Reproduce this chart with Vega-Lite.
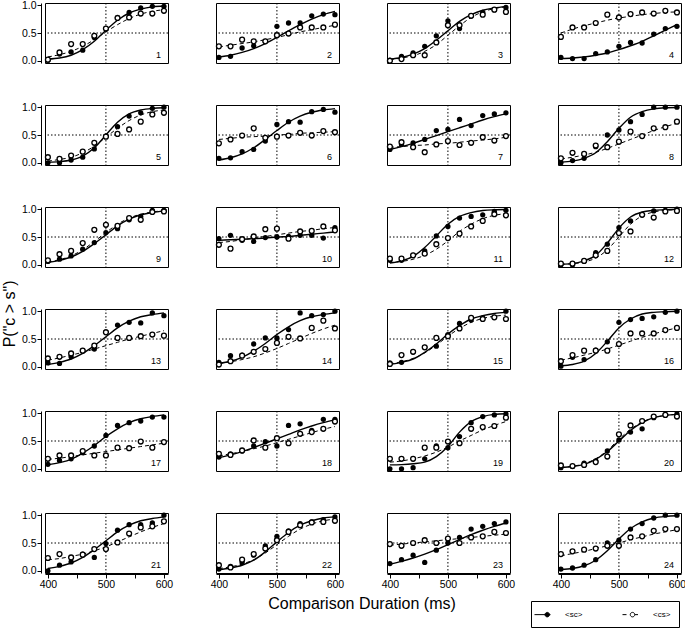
{
"$schema": "https://vega.github.io/schema/vega-lite/v6.json",
"padding": {"left": 2, "top": 0, "right": 2, "bottom": 2},
"title": {"text": "P(\"c > s\")", "orient": "left", "anchor": "middle", "fontSize": 16, "font": "Liberation Sans", "fontWeight": "normal", "offset": 3, "color": "black"},
"data": {"values": [
{"p":1,"x":400,"sc":0.01,"cs":0.02,"scFit":0.03,"csFit":0.07},{"p":1,"x":420,"sc":0.12,"cs":0.15,"scFit":0.05,"csFit":0.11},{"p":1,"x":440,"sc":0.16,"cs":0.30,"scFit":0.10,"csFit":0.17},{"p":1,"x":460,"sc":0.19,"cs":0.30,"scFit":0.20,"csFit":0.26},{"p":1,"x":480,"sc":0.42,"cs":0.45,"scFit":0.35,"csFit":0.38},{"p":1,"x":500,"sc":0.58,"cs":0.58,"scFit":0.55,"csFit":0.52},{"p":1,"x":520,"sc":0.78,"cs":0.77,"scFit":0.73,"csFit":0.65},{"p":1,"x":540,"sc":0.87,"cs":0.78,"scFit":0.86,"csFit":0.76},{"p":1,"x":560,"sc":0.95,"cs":0.85,"scFit":0.93,"csFit":0.84},{"p":1,"x":580,"sc":0.98,"cs":0.85,"scFit":0.97,"csFit":0.89},{"p":1,"x":600,"sc":0.98,"cs":0.90,"scFit":0.985,"csFit":0.92},
{"p":2,"x":400,"sc":0.06,"cs":0.26,"scFit":0.07,"csFit":0.25},{"p":2,"x":420,"sc":0.08,"cs":0.26,"scFit":0.10,"csFit":0.28},{"p":2,"x":440,"sc":0.23,"cs":0.38,"scFit":0.15,"csFit":0.31},{"p":2,"x":460,"sc":0.27,"cs":0.35,"scFit":0.22,"csFit":0.34},{"p":2,"x":480,"sc":0.35,"cs":0.35,"scFit":0.31,"csFit":0.38},{"p":2,"x":500,"sc":0.62,"cs":0.46,"scFit":0.42,"csFit":0.42},{"p":2,"x":520,"sc":0.68,"cs":0.49,"scFit":0.54,"csFit":0.47},{"p":2,"x":540,"sc":0.68,"cs":0.60,"scFit":0.65,"csFit":0.52},{"p":2,"x":560,"sc":0.81,"cs":0.60,"scFit":0.75,"csFit":0.56},{"p":2,"x":580,"sc":0.84,"cs":0.60,"scFit":0.83,"csFit":0.60},{"p":2,"x":600,"sc":0.83,"cs":0.65,"scFit":0.89,"csFit":0.64},
{"p":3,"x":400,"sc":0.01,"cs":0.00,"scFit":0.03,"csFit":0.02},{"p":3,"x":420,"sc":0.08,"cs":0.03,"scFit":0.06,"csFit":0.05},{"p":3,"x":440,"sc":0.14,"cs":0.10,"scFit":0.12,"csFit":0.09},{"p":3,"x":460,"sc":0.26,"cs":0.10,"scFit":0.22,"csFit":0.17},{"p":3,"x":480,"sc":0.45,"cs":0.33,"scFit":0.37,"csFit":0.29},{"p":3,"x":500,"sc":0.72,"cs":0.64,"scFit":0.54,"csFit":0.46},{"p":3,"x":520,"sc":0.58,"cs":0.64,"scFit":0.71,"csFit":0.63},{"p":3,"x":540,"sc":0.81,"cs":0.81,"scFit":0.83,"csFit":0.78},{"p":3,"x":560,"sc":0.87,"cs":0.83,"scFit":0.91,"csFit":0.88},{"p":3,"x":580,"sc":0.92,"cs":0.92,"scFit":0.95,"csFit":0.94},{"p":3,"x":600,"sc":0.96,"cs":0.88,"scFit":0.98,"csFit":0.97},
{"p":4,"x":400,"sc":0.06,"cs":0.43,"scFit":0.04,"csFit":0.50},{"p":4,"x":420,"sc":0.04,"cs":0.60,"scFit":0.05,"csFit":0.57},{"p":4,"x":440,"sc":0.04,"cs":0.60,"scFit":0.07,"csFit":0.63},{"p":4,"x":460,"sc":0.13,"cs":0.68,"scFit":0.10,"csFit":0.68},{"p":4,"x":480,"sc":0.16,"cs":0.83,"scFit":0.14,"csFit":0.73},{"p":4,"x":500,"sc":0.26,"cs":0.78,"scFit":0.20,"csFit":0.77},{"p":4,"x":520,"sc":0.33,"cs":0.84,"scFit":0.27,"csFit":0.80},{"p":4,"x":540,"sc":0.32,"cs":0.87,"scFit":0.35,"csFit":0.83},{"p":4,"x":560,"sc":0.48,"cs":0.85,"scFit":0.45,"csFit":0.85},{"p":4,"x":580,"sc":0.58,"cs":0.90,"scFit":0.55,"csFit":0.87},{"p":4,"x":600,"sc":0.62,"cs":0.87,"scFit":0.65,"csFit":0.88},
{"p":5,"x":400,"sc":0.00,"cs":0.10,"scFit":0.01,"csFit":0.03},{"p":5,"x":420,"sc":0.00,"cs":0.07,"scFit":0.02,"csFit":0.06},{"p":5,"x":440,"sc":0.05,"cs":0.13,"scFit":0.05,"csFit":0.10},{"p":5,"x":460,"sc":0.10,"cs":0.20,"scFit":0.12,"csFit":0.18},{"p":5,"x":480,"sc":0.25,"cs":0.36,"scFit":0.27,"csFit":0.30},{"p":5,"x":500,"sc":0.48,"cs":0.47,"scFit":0.50,"csFit":0.46},{"p":5,"x":520,"sc":0.65,"cs":0.52,"scFit":0.73,"csFit":0.62},{"p":5,"x":540,"sc":0.84,"cs":0.60,"scFit":0.88,"csFit":0.76},{"p":5,"x":560,"sc":0.90,"cs":0.74,"scFit":0.95,"csFit":0.86},{"p":5,"x":580,"sc":0.98,"cs":0.87,"scFit":0.98,"csFit":0.92},{"p":5,"x":600,"sc":1.00,"cs":0.90,"scFit":0.99,"csFit":0.95},
{"p":6,"x":400,"sc":0.08,"cs":0.35,"scFit":0.05,"csFit":0.42},{"p":6,"x":420,"sc":0.09,"cs":0.42,"scFit":0.09,"csFit":0.44},{"p":6,"x":440,"sc":0.20,"cs":0.49,"scFit":0.16,"csFit":0.46},{"p":6,"x":460,"sc":0.24,"cs":0.62,"scFit":0.27,"csFit":0.47},{"p":6,"x":480,"sc":0.39,"cs":0.45,"scFit":0.42,"csFit":0.48},{"p":6,"x":500,"sc":0.69,"cs":0.47,"scFit":0.58,"csFit":0.50},{"p":6,"x":520,"sc":0.74,"cs":0.49,"scFit":0.73,"csFit":0.51},{"p":6,"x":540,"sc":0.73,"cs":0.54,"scFit":0.84,"csFit":0.53},{"p":6,"x":560,"sc":0.92,"cs":0.49,"scFit":0.91,"csFit":0.54},{"p":6,"x":580,"sc":0.96,"cs":0.57,"scFit":0.95,"csFit":0.55},{"p":6,"x":600,"sc":0.91,"cs":0.55,"scFit":0.975,"csFit":0.56},
{"p":7,"x":400,"sc":0.24,"cs":0.29,"scFit":0.24,"csFit":0.28},{"p":7,"x":420,"sc":0.33,"cs":0.37,"scFit":0.29,"csFit":0.29},{"p":7,"x":440,"sc":0.36,"cs":0.28,"scFit":0.35,"csFit":0.31},{"p":7,"x":460,"sc":0.42,"cs":0.19,"scFit":0.42,"csFit":0.32},{"p":7,"x":480,"sc":0.58,"cs":0.33,"scFit":0.49,"csFit":0.34},{"p":7,"x":500,"sc":0.60,"cs":0.39,"scFit":0.56,"csFit":0.35},{"p":7,"x":520,"sc":0.78,"cs":0.32,"scFit":0.63,"csFit":0.37},{"p":7,"x":540,"sc":0.67,"cs":0.36,"scFit":0.70,"csFit":0.39},{"p":7,"x":560,"sc":0.85,"cs":0.46,"scFit":0.77,"csFit":0.41},{"p":7,"x":580,"sc":0.88,"cs":0.40,"scFit":0.83,"csFit":0.43},{"p":7,"x":600,"sc":0.90,"cs":0.48,"scFit":0.88,"csFit":0.46},
{"p":8,"x":400,"sc":0.00,"cs":0.08,"scFit":0.01,"csFit":0.07},{"p":8,"x":420,"sc":0.04,"cs":0.18,"scFit":0.03,"csFit":0.10},{"p":8,"x":440,"sc":0.08,"cs":0.16,"scFit":0.08,"csFit":0.14},{"p":8,"x":460,"sc":0.29,"cs":0.31,"scFit":0.18,"csFit":0.19},{"p":8,"x":480,"sc":0.50,"cs":0.28,"scFit":0.38,"csFit":0.26},{"p":8,"x":500,"sc":0.59,"cs":0.38,"scFit":0.62,"csFit":0.34},{"p":8,"x":520,"sc":0.74,"cs":0.56,"scFit":0.82,"csFit":0.42},{"p":8,"x":540,"sc":0.87,"cs":0.48,"scFit":0.92,"csFit":0.50},{"p":8,"x":560,"sc":1.00,"cs":0.62,"scFit":0.97,"csFit":0.58},{"p":8,"x":580,"sc":1.00,"cs":0.64,"scFit":0.99,"csFit":0.65},{"p":8,"x":600,"sc":1.00,"cs":0.74,"scFit":0.995,"csFit":0.71},
{"p":9,"x":400,"sc":0.06,"cs":0.08,"scFit":0.04,"csFit":0.05},{"p":9,"x":420,"sc":0.10,"cs":0.19,"scFit":0.08,"csFit":0.09},{"p":9,"x":440,"sc":0.16,"cs":0.25,"scFit":0.14,"csFit":0.16},{"p":9,"x":460,"sc":0.28,"cs":0.39,"scFit":0.24,"csFit":0.27},{"p":9,"x":480,"sc":0.40,"cs":0.63,"scFit":0.38,"csFit":0.42},{"p":9,"x":500,"sc":0.58,"cs":0.72,"scFit":0.54,"csFit":0.58},{"p":9,"x":520,"sc":0.65,"cs":0.70,"scFit":0.70,"csFit":0.73},{"p":9,"x":540,"sc":0.81,"cs":0.84,"scFit":0.82,"csFit":0.84},{"p":9,"x":560,"sc":0.87,"cs":0.81,"scFit":0.90,"csFit":0.91},{"p":9,"x":580,"sc":0.98,"cs":0.95,"scFit":0.94,"csFit":0.95},{"p":9,"x":600,"sc":0.98,"cs":0.96,"scFit":0.97,"csFit":0.975},
{"p":10,"x":400,"sc":0.47,"cs":0.36,"scFit":0.44,"csFit":0.40},{"p":10,"x":420,"sc":0.53,"cs":0.29,"scFit":0.45,"csFit":0.42},{"p":10,"x":440,"sc":0.44,"cs":0.46,"scFit":0.46,"csFit":0.45},{"p":10,"x":460,"sc":0.42,"cs":0.51,"scFit":0.47,"csFit":0.48},{"p":10,"x":480,"sc":0.49,"cs":0.64,"scFit":0.48,"csFit":0.51},{"p":10,"x":500,"sc":0.50,"cs":0.65,"scFit":0.50,"csFit":0.54},{"p":10,"x":520,"sc":0.51,"cs":0.47,"scFit":0.51,"csFit":0.57},{"p":10,"x":540,"sc":0.53,"cs":0.60,"scFit":0.53,"csFit":0.60},{"p":10,"x":560,"sc":0.53,"cs":0.61,"scFit":0.55,"csFit":0.62},{"p":10,"x":580,"sc":0.48,"cs":0.69,"scFit":0.57,"csFit":0.65},{"p":10,"x":600,"sc":0.67,"cs":0.62,"scFit":0.59,"csFit":0.67},
{"p":11,"x":400,"sc":0.08,"cs":0.11,"scFit":0.03,"csFit":0.04},{"p":11,"x":420,"sc":0.08,"cs":0.11,"scFit":0.07,"csFit":0.06},{"p":11,"x":440,"sc":0.17,"cs":0.17,"scFit":0.15,"csFit":0.10},{"p":11,"x":460,"sc":0.25,"cs":0.20,"scFit":0.31,"csFit":0.17},{"p":11,"x":480,"sc":0.52,"cs":0.37,"scFit":0.52,"csFit":0.28},{"p":11,"x":500,"sc":0.69,"cs":0.48,"scFit":0.73,"csFit":0.43},{"p":11,"x":520,"sc":0.84,"cs":0.56,"scFit":0.87,"csFit":0.60},{"p":11,"x":540,"sc":0.87,"cs":0.69,"scFit":0.94,"csFit":0.73},{"p":11,"x":560,"sc":0.90,"cs":0.79,"scFit":0.976,"csFit":0.83},{"p":11,"x":580,"sc":0.96,"cs":0.91,"scFit":0.99,"csFit":0.89},{"p":11,"x":600,"sc":0.98,"cs":0.89,"scFit":0.995,"csFit":0.92},
{"p":12,"x":400,"sc":0.00,"cs":0.02,"scFit":0.01,"csFit":0.01},{"p":12,"x":420,"sc":0.00,"cs":0.02,"scFit":0.02,"csFit":0.02},{"p":12,"x":440,"sc":0.07,"cs":0.07,"scFit":0.07,"csFit":0.05},{"p":12,"x":460,"sc":0.22,"cs":0.17,"scFit":0.17,"csFit":0.12},{"p":12,"x":480,"sc":0.37,"cs":0.25,"scFit":0.39,"csFit":0.27},{"p":12,"x":500,"sc":0.67,"cs":0.57,"scFit":0.66,"csFit":0.50},{"p":12,"x":520,"sc":0.79,"cs":0.60,"scFit":0.86,"csFit":0.73},{"p":12,"x":540,"sc":0.90,"cs":0.90,"scFit":0.95,"csFit":0.88},{"p":12,"x":560,"sc":0.97,"cs":0.85,"scFit":0.98,"csFit":0.95},{"p":12,"x":580,"sc":0.98,"cs":0.96,"scFit":0.99,"csFit":0.98},{"p":12,"x":600,"sc":1.00,"cs":0.97,"scFit":1.00,"csFit":0.99},
{"p":13,"x":400,"sc":0.07,"cs":0.15,"scFit":0.04,"csFit":0.12},{"p":13,"x":420,"sc":0.06,"cs":0.18,"scFit":0.08,"csFit":0.16},{"p":13,"x":440,"sc":0.18,"cs":0.24,"scFit":0.14,"csFit":0.21},{"p":13,"x":460,"sc":0.29,"cs":0.29,"scFit":0.24,"csFit":0.26},{"p":13,"x":480,"sc":0.32,"cs":0.38,"scFit":0.38,"csFit":0.32},{"p":13,"x":500,"sc":0.63,"cs":0.62,"scFit":0.54,"csFit":0.38},{"p":13,"x":520,"sc":0.75,"cs":0.52,"scFit":0.70,"csFit":0.44},{"p":13,"x":540,"sc":0.80,"cs":0.52,"scFit":0.82,"csFit":0.50},{"p":13,"x":560,"sc":0.79,"cs":0.55,"scFit":0.90,"csFit":0.55},{"p":13,"x":580,"sc":0.97,"cs":0.58,"scFit":0.94,"csFit":0.60},{"p":13,"x":600,"sc":0.92,"cs":0.56,"scFit":0.97,"csFit":0.65},
{"p":14,"x":400,"sc":0.08,"cs":0.04,"scFit":0.06,"csFit":0.06},{"p":14,"x":420,"sc":0.20,"cs":0.10,"scFit":0.10,"csFit":0.09},{"p":14,"x":440,"sc":0.21,"cs":0.20,"scFit":0.17,"csFit":0.13},{"p":14,"x":460,"sc":0.41,"cs":0.27,"scFit":0.28,"csFit":0.18},{"p":14,"x":480,"sc":0.52,"cs":0.32,"scFit":0.42,"csFit":0.25},{"p":14,"x":500,"sc":0.52,"cs":0.43,"scFit":0.58,"csFit":0.33},{"p":14,"x":520,"sc":0.67,"cs":0.54,"scFit":0.72,"csFit":0.42},{"p":14,"x":540,"sc":0.97,"cs":0.51,"scFit":0.83,"csFit":0.51},{"p":14,"x":560,"sc":0.92,"cs":0.70,"scFit":0.90,"csFit":0.60},{"p":14,"x":580,"sc":0.94,"cs":0.83,"scFit":0.94,"csFit":0.68},{"p":14,"x":600,"sc":1.00,"cs":0.69,"scFit":0.97,"csFit":0.75},
{"p":15,"x":400,"sc":0.07,"cs":0.05,"scFit":0.04,"csFit":0.05},{"p":15,"x":420,"sc":0.08,"cs":0.21,"scFit":0.08,"csFit":0.09},{"p":15,"x":440,"sc":0.27,"cs":0.27,"scFit":0.14,"csFit":0.15},{"p":15,"x":460,"sc":0.35,"cs":0.35,"scFit":0.26,"csFit":0.25},{"p":15,"x":480,"sc":0.37,"cs":0.52,"scFit":0.41,"csFit":0.39},{"p":15,"x":500,"sc":0.58,"cs":0.55,"scFit":0.59,"csFit":0.55},{"p":15,"x":520,"sc":0.78,"cs":0.69,"scFit":0.74,"csFit":0.69},{"p":15,"x":540,"sc":0.84,"cs":0.88,"scFit":0.86,"csFit":0.80},{"p":15,"x":560,"sc":0.88,"cs":0.86,"scFit":0.92,"csFit":0.87},{"p":15,"x":580,"sc":0.89,"cs":0.89,"scFit":0.96,"csFit":0.91},{"p":15,"x":600,"sc":1.00,"cs":0.86,"scFit":0.98,"csFit":0.93},
{"p":16,"x":400,"sc":0.01,"cs":0.10,"scFit":0.02,"csFit":0.12},{"p":16,"x":420,"sc":0.17,"cs":0.21,"scFit":0.04,"csFit":0.16},{"p":16,"x":440,"sc":0.13,"cs":0.29,"scFit":0.10,"csFit":0.21},{"p":16,"x":460,"sc":0.30,"cs":0.29,"scFit":0.24,"csFit":0.26},{"p":16,"x":480,"sc":0.45,"cs":0.29,"scFit":0.46,"csFit":0.32},{"p":16,"x":500,"sc":0.80,"cs":0.41,"scFit":0.70,"csFit":0.39},{"p":16,"x":520,"sc":0.85,"cs":0.60,"scFit":0.86,"csFit":0.46},{"p":16,"x":540,"sc":0.87,"cs":0.60,"scFit":0.95,"csFit":0.53},{"p":16,"x":560,"sc":0.90,"cs":0.60,"scFit":0.98,"csFit":0.59},{"p":16,"x":580,"sc":0.98,"cs":0.66,"scFit":0.99,"csFit":0.65},{"p":16,"x":600,"sc":1.00,"cs":0.70,"scFit":1.00,"csFit":0.70},
{"p":17,"x":400,"sc":0.08,"cs":0.18,"scFit":0.07,"csFit":0.17},{"p":17,"x":420,"sc":0.15,"cs":0.24,"scFit":0.11,"csFit":0.19},{"p":17,"x":440,"sc":0.18,"cs":0.24,"scFit":0.17,"csFit":0.22},{"p":17,"x":460,"sc":0.29,"cs":0.32,"scFit":0.28,"csFit":0.25},{"p":17,"x":480,"sc":0.41,"cs":0.24,"scFit":0.42,"csFit":0.28},{"p":17,"x":500,"sc":0.60,"cs":0.24,"scFit":0.58,"csFit":0.31},{"p":17,"x":520,"sc":0.78,"cs":0.38,"scFit":0.72,"csFit":0.34},{"p":17,"x":540,"sc":0.83,"cs":0.37,"scFit":0.83,"csFit":0.37},{"p":17,"x":560,"sc":0.86,"cs":0.49,"scFit":0.90,"csFit":0.40},{"p":17,"x":580,"sc":0.93,"cs":0.38,"scFit":0.94,"csFit":0.43},{"p":17,"x":600,"sc":0.93,"cs":0.48,"scFit":0.97,"csFit":0.46},
{"p":18,"x":400,"sc":0.21,"cs":0.27,"scFit":0.20,"csFit":0.23},{"p":18,"x":420,"sc":0.27,"cs":0.25,"scFit":0.25,"csFit":0.27},{"p":18,"x":440,"sc":0.32,"cs":0.33,"scFit":0.31,"csFit":0.31},{"p":18,"x":460,"sc":0.41,"cs":0.51,"scFit":0.38,"csFit":0.36},{"p":18,"x":480,"sc":0.49,"cs":0.38,"scFit":0.46,"csFit":0.41},{"p":18,"x":500,"sc":0.41,"cs":0.55,"scFit":0.54,"csFit":0.47},{"p":18,"x":520,"sc":0.78,"cs":0.46,"scFit":0.62,"csFit":0.53},{"p":18,"x":540,"sc":0.81,"cs":0.63,"scFit":0.70,"csFit":0.59},{"p":18,"x":560,"sc":0.69,"cs":0.66,"scFit":0.77,"csFit":0.65},{"p":18,"x":580,"sc":0.89,"cs":0.72,"scFit":0.83,"csFit":0.71},{"p":18,"x":600,"sc":0.89,"cs":0.85,"scFit":0.88,"csFit":0.76},
{"p":19,"x":400,"sc":0.00,"cs":0.18,"scFit":0.07,"csFit":0.12},{"p":19,"x":420,"sc":0.00,"cs":0.18,"scFit":0.075,"csFit":0.14},{"p":19,"x":440,"sc":0.02,"cs":0.18,"scFit":0.09,"csFit":0.18},{"p":19,"x":460,"sc":0.18,"cs":0.38,"scFit":0.12,"csFit":0.23},{"p":19,"x":480,"sc":0.41,"cs":0.38,"scFit":0.22,"csFit":0.30},{"p":19,"x":500,"sc":0.38,"cs":0.49,"scFit":0.40,"csFit":0.39},{"p":19,"x":520,"sc":0.58,"cs":0.46,"scFit":0.66,"csFit":0.50},{"p":19,"x":540,"sc":0.83,"cs":0.72,"scFit":0.85,"csFit":0.60},{"p":19,"x":560,"sc":0.94,"cs":0.75,"scFit":0.94,"csFit":0.70},{"p":19,"x":580,"sc":0.97,"cs":0.77,"scFit":0.98,"csFit":0.78},{"p":19,"x":600,"sc":0.99,"cs":0.92,"scFit":0.99,"csFit":0.85},
{"p":20,"x":400,"sc":0.02,"cs":0.06,"scFit":0.02,"csFit":0.02},{"p":20,"x":420,"sc":0.04,"cs":0.05,"scFit":0.04,"csFit":0.045},{"p":20,"x":440,"sc":0.10,"cs":0.07,"scFit":0.08,"csFit":0.09},{"p":20,"x":460,"sc":0.14,"cs":0.12,"scFit":0.17,"csFit":0.18},{"p":20,"x":480,"sc":0.32,"cs":0.22,"scFit":0.31,"csFit":0.33},{"p":20,"x":500,"sc":0.52,"cs":0.62,"scFit":0.50,"csFit":0.53},{"p":20,"x":520,"sc":0.66,"cs":0.78,"scFit":0.69,"csFit":0.71},{"p":20,"x":540,"sc":0.72,"cs":0.86,"scFit":0.83,"csFit":0.84},{"p":20,"x":560,"sc":0.92,"cs":0.94,"scFit":0.92,"csFit":0.92},{"p":20,"x":580,"sc":0.97,"cs":0.97,"scFit":0.96,"csFit":0.96},{"p":20,"x":600,"sc":0.99,"cs":0.94,"scFit":0.98,"csFit":0.98},
{"p":21,"x":400,"sc":0.00,"cs":0.23,"scFit":0.04,"csFit":0.20},{"p":21,"x":420,"sc":0.10,"cs":0.30,"scFit":0.08,"csFit":0.22},{"p":21,"x":440,"sc":0.16,"cs":0.24,"scFit":0.14,"csFit":0.26},{"p":21,"x":460,"sc":0.30,"cs":0.29,"scFit":0.24,"csFit":0.30},{"p":21,"x":480,"sc":0.24,"cs":0.39,"scFit":0.38,"csFit":0.36},{"p":21,"x":500,"sc":0.49,"cs":0.39,"scFit":0.54,"csFit":0.43},{"p":21,"x":520,"sc":0.73,"cs":0.51,"scFit":0.70,"csFit":0.52},{"p":21,"x":540,"sc":0.83,"cs":0.67,"scFit":0.82,"csFit":0.61},{"p":21,"x":560,"sc":0.83,"cs":0.78,"scFit":0.90,"csFit":0.70},{"p":21,"x":580,"sc":0.86,"cs":0.80,"scFit":0.94,"csFit":0.78},{"p":21,"x":600,"sc":1.00,"cs":0.89,"scFit":0.97,"csFit":0.85},
{"p":22,"x":400,"sc":0.03,"cs":0.10,"scFit":0.02,"csFit":0.04},{"p":22,"x":420,"sc":0.08,"cs":0.06,"scFit":0.05,"csFit":0.07},{"p":22,"x":440,"sc":0.15,"cs":0.20,"scFit":0.10,"csFit":0.12},{"p":22,"x":460,"sc":0.28,"cs":0.30,"scFit":0.19,"csFit":0.20},{"p":22,"x":480,"sc":0.45,"cs":0.40,"scFit":0.34,"csFit":0.32},{"p":22,"x":500,"sc":0.62,"cs":0.55,"scFit":0.52,"csFit":0.47},{"p":22,"x":520,"sc":0.72,"cs":0.70,"scFit":0.69,"csFit":0.62},{"p":22,"x":540,"sc":0.85,"cs":0.82,"scFit":0.82,"csFit":0.75},{"p":22,"x":560,"sc":0.88,"cs":0.87,"scFit":0.90,"csFit":0.84},{"p":22,"x":580,"sc":0.92,"cs":0.88,"scFit":0.95,"csFit":0.90},{"p":22,"x":600,"sc":0.97,"cs":0.90,"scFit":0.97,"csFit":0.93},
{"p":23,"x":400,"sc":0.13,"cs":0.48,"scFit":0.12,"csFit":0.46},{"p":23,"x":420,"sc":0.20,"cs":0.45,"scFit":0.17,"csFit":0.48},{"p":23,"x":440,"sc":0.28,"cs":0.50,"scFit":0.23,"csFit":0.50},{"p":23,"x":460,"sc":0.15,"cs":0.55,"scFit":0.30,"csFit":0.52},{"p":23,"x":480,"sc":0.37,"cs":0.50,"scFit":0.38,"csFit":0.54},{"p":23,"x":500,"sc":0.50,"cs":0.58,"scFit":0.47,"csFit":0.56},{"p":23,"x":520,"sc":0.60,"cs":0.50,"scFit":0.56,"csFit":0.58},{"p":23,"x":540,"sc":0.75,"cs":0.60,"scFit":0.65,"csFit":0.60},{"p":23,"x":560,"sc":0.80,"cs":0.62,"scFit":0.73,"csFit":0.62},{"p":23,"x":580,"sc":0.85,"cs":0.70,"scFit":0.80,"csFit":0.64},{"p":23,"x":600,"sc":0.88,"cs":0.68,"scFit":0.86,"csFit":0.66},
{"p":24,"x":400,"sc":0.03,"cs":0.30,"scFit":0.02,"csFit":0.27},{"p":24,"x":420,"sc":0.05,"cs":0.35,"scFit":0.04,"csFit":0.31},{"p":24,"x":440,"sc":0.10,"cs":0.38,"scFit":0.09,"csFit":0.35},{"p":24,"x":460,"sc":0.20,"cs":0.40,"scFit":0.19,"csFit":0.40},{"p":24,"x":480,"sc":0.50,"cs":0.45,"scFit":0.36,"csFit":0.45},{"p":24,"x":500,"sc":0.55,"cs":0.45,"scFit":0.57,"csFit":0.50},{"p":24,"x":520,"sc":0.75,"cs":0.60,"scFit":0.76,"csFit":0.56},{"p":24,"x":540,"sc":0.85,"cs":0.62,"scFit":0.88,"csFit":0.61},{"p":24,"x":560,"sc":0.95,"cs":0.72,"scFit":0.95,"csFit":0.66},{"p":24,"x":580,"sc":1.00,"cs":0.75,"scFit":0.98,"csFit":0.70},{"p":24,"x":600,"sc":1.00,"cs":0.75,"scFit":0.99,"csFit":0.74}
]},
"columns": 4,
"facet": {"field": "p", "type": "ordinal", "header": {"labels": false, "labelExpr": "''", "labelFontSize": 1, "labelPadding": 0, "title": "Comparison Duration (ms)", "titleOrient": "bottom", "titleFontSize": 16, "titleFont": "Liberation Sans", "titleFontWeight": "normal", "titleColor": "black", "titlePadding": 6}},
"spacing": {"row": 35, "column": 43},
"spec": {
 "width": 123, "height": 60,
 "layer": [
  {"mark": {"type": "rule", "strokeDash": [1.5, 2], "color": "black", "strokeWidth": 1},
   "transform": [{"filter": "datum.x == 400"}],
   "encoding": {"x": {"datum": 500, "type": "quantitative", "scale": {"domain": [395, 607], "nice": false, "zero": false}, "title": null, "axis": {"values": [400, 450, 500, 550, 600], "labelExpr": "datum.value % 100 == 0 ? datum.label : ''", "format": "d", "title": null}}}},
  {"mark": {"type": "rule", "strokeDash": [1.5, 2], "color": "black", "strokeWidth": 1},
   "transform": [{"filter": "datum.x == 400"}],
   "encoding": {"y": {"datum": 0.5, "type": "quantitative", "scale": {"domain": [-0.04, 1.04], "nice": false, "zero": false}, "title": null, "axis": {"values": [0, 0.5, 1], "format": ".1f", "title": null}}}},
  {"mark": {"type": "line", "color": "black", "strokeWidth": 1.4, "interpolate": "monotone"},
   "encoding": {
     "x": {"field": "x", "type": "quantitative", "title": null, "axis": {"values": [400, 450, 500, 550, 600], "labelExpr": "datum.value % 100 == 0 ? datum.label : ''", "format": "d", "title": null}},
     "y": {"field": "scFit", "type": "quantitative", "title": null, "axis": {"values": [0, 0.5, 1], "format": ".1f", "title": null}}}},
  {"mark": {"type": "line", "color": "black", "strokeWidth": 1, "strokeDash": [4, 3], "interpolate": "monotone"},
   "encoding": {
     "x": {"field": "x", "type": "quantitative", "title": null, "axis": {"values": [400, 450, 500, 550, 600], "labelExpr": "datum.value % 100 == 0 ? datum.label : ''", "format": "d", "title": null}},
     "y": {"field": "csFit", "type": "quantitative", "title": null, "axis": {"values": [0, 0.5, 1], "format": ".1f", "title": null}}}},
  {"mark": {"type": "point", "shape": "circle", "filled": true, "color": "black", "size": 28, "opacity": 1},
   "encoding": {
     "x": {"field": "x", "type": "quantitative", "title": null, "axis": {"values": [400, 450, 500, 550, 600], "labelExpr": "datum.value % 100 == 0 ? datum.label : ''", "format": "d", "title": null}},
     "y": {"field": "sc", "type": "quantitative", "title": null, "axis": {"values": [0, 0.5, 1], "format": ".1f", "title": null}}}},
  {"mark": {"type": "point", "shape": "circle", "filled": false, "stroke": "black", "fill": "white", "fillOpacity": 1, "strokeWidth": 1.3, "size": 24, "opacity": 1},
   "encoding": {
     "x": {"field": "x", "type": "quantitative", "title": null, "axis": {"values": [400, 450, 500, 550, 600], "labelExpr": "datum.value % 100 == 0 ? datum.label : ''", "format": "d", "title": null}},
     "y": {"field": "cs", "type": "quantitative", "title": null, "axis": {"values": [0, 0.5, 1], "format": ".1f", "title": null}}}},
  {"mark": {"type": "text", "align": "right", "baseline": "bottom", "fontSize": 9, "font": "Liberation Sans", "dx": -3, "dy": -1, "color": "black"},
   "transform": [{"filter": "datum.x == 600"}],
   "encoding": {
     "x": {"field": "x", "type": "quantitative", "title": null, "axis": {"values": [400, 450, 500, 550, 600], "labelExpr": "datum.value % 100 == 0 ? datum.label : ''", "format": "d", "title": null}},
     "y": {"datum": 0, "type": "quantitative", "title": null, "axis": {"values": [0, 0.5, 1], "format": ".1f", "title": null}},
     "text": {"field": "p", "type": "nominal"}}},
  {"mark": {"type": "point", "opacity": 0, "filled": true, "stroke": "black", "strokeWidth": 1},
   "transform": [{"filter": "datum.x == 400 && datum.p == 1"}, {"fold": ["sc", "cs"], "as": ["series", "val"]}],
   "encoding": {
     "x": {"field": "x", "type": "quantitative", "title": null, "axis": {"values": [400, 450, 500, 550, 600], "labelExpr": "datum.value % 100 == 0 ? datum.label : ''", "format": "d", "title": null}},
     "y": {"field": "val", "type": "quantitative", "title": null, "axis": {"values": [0, 0.5, 1], "format": ".1f", "title": null}},
     "shape": {"field": "series", "type": "nominal", "scale": {"domain": ["sc", "cs"], "range": ["M-2,0H1.2M0.1,0A0.45,0.45 0 1,1 1,0A0.45,0.45 0 1,1 0.1,0Z", "M-2,0H-1.2M-0.45,0A0.45,0.45 0 1,1 0.45,0A0.45,0.45 0 1,1 -0.45,0ZM0.45,0H1.1"]},
       "legend": {"title": null, "orient": "none", "legendX": 486, "legendY": 598, "direction": "horizontal", "strokeColor": "black", "padding": 8, "labelFontSize": 8, "labelFont": "Liberation Sans", "symbolSize": 100, "symbolOpacity": 1, "symbolStrokeColor": "black", "symbolStrokeWidth": 1, "labelOffset": 15, "columnPadding": 37, "labelExpr": "'<' + datum.label + '>'", "labelColor": "black",
         "encode": {"symbols": {"update": {"stroke": {"value": "black"}, "strokeWidth": {"value": 1}, "opacity": {"value": 1}, "strokeOpacity": {"value": 1}, "fillOpacity": {"value": 1}}}}}},
     "fill": {"field": "series", "type": "nominal", "scale": {"domain": ["sc", "cs"], "range": ["black", "white"]}, "legend": {"title": null, "orient": "none", "legendX": 486, "legendY": 598, "direction": "horizontal", "strokeColor": "black", "padding": 8, "labelFontSize": 8, "labelFont": "Liberation Sans", "symbolSize": 100, "symbolOpacity": 1, "symbolStrokeColor": "black", "symbolStrokeWidth": 1, "labelOffset": 15, "columnPadding": 37, "labelExpr": "'<' + datum.label + '>'", "labelColor": "black",
         "encode": {"symbols": {"update": {"stroke": {"value": "black"}, "strokeWidth": {"value": 1}, "opacity": {"value": 1}, "strokeOpacity": {"value": 1}, "fillOpacity": {"value": 1}}}}}}}}
 ]
},
"config": {
 "font": "Liberation Sans",
 "view": {"stroke": "black", "strokeWidth": 1},
 "axis": {"domainColor": "black", "tickColor": "black", "labelColor": "black", "grid": false, "labelFont": "Liberation Sans", "labelFontSize": 10.5, "tickSize": 4, "labelPadding": 1, "domainWidth": 1, "tickWidth": 1}
}
}
